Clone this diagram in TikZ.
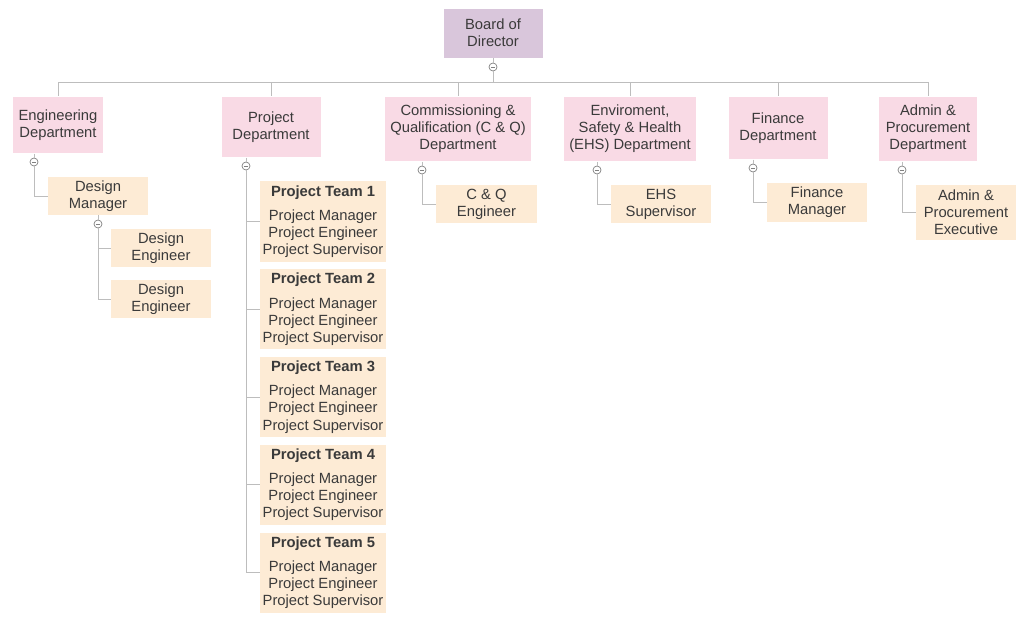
\documentclass[tikz,border=0pt]{standalone}
\usepackage{fontspec}
\setmainfont{Liberation Sans}
\usetikzlibrary{positioning}

\definecolor{boardfill}{HTML}{D9C6DB}
\definecolor{deptfill}{HTML}{F9DAE5}
\definecolor{staffill}{HTML}{FDEBD5}
\definecolor{linegray}{HTML}{BDBDBD}
\definecolor{textgray}{HTML}{3A3A3A}

\begin{document}
\begin{tikzpicture}[
    x=0.025cm, y=-0.025cm,
    every node/.style={font=\fontsize{10.5}{12.2}\selectfont, text=textgray},
    board/.style={rectangle, align=center, fill=boardfill, draw=white, minimum width=2.5cm, minimum height=1.25cm},
    dept/.style={rectangle, align=center, fill=deptfill, draw=white, inner xsep=0.15cm, anchor=north},
    staff/.style={rectangle, align=center, fill=staffill, minimum width=2.5cm, minimum height=0.95cm, inner sep=1pt},
    team/.style={rectangle, align=center, fill=staffill, minimum width=3.15cm, minimum height=2cm, inner sep=1pt},
    fold/.style={circle, draw=gray, fill=white, line width=0.5pt, inner sep=0pt, minimum size=0.2cm,
        path picture={\draw[gray, line width=0.5pt] ([xshift=-1.6pt]path picture bounding box.center) -- ([xshift=1.6pt]path picture bounding box.center);}},
    link/.style={draw=linegray, line width=0.7pt}
]
\useasboundingbox (0,0) rectangle (1024,619);

% Top
\node (board) [board] at (493,33) {Board of\\Director};
\node (bdot) [fold] at (493,67) {};
\coordinate (bus) at (493,82);

% Departments
\node (eng) [dept, minimum height=1.43cm] at (58,96) {Engineering\\Department};
\node (proj) [dept, minimum height=1.53cm, minimum width=2.5cm] at (271,96) {Project\\Department};
\node (cq) [dept, minimum height=1.63cm] at (458,96) {Commissioning \&\\Qualification (C \& Q)\\Department};
\node (ehs) [dept, minimum height=1.63cm] at (630,96) {Enviroment,\\Safety \& Health\\(EHS) Department};
\node (fin) [dept, minimum height=1.58cm, minimum width=2.5cm] at (778,96) {Finance\\Department};
\node (adm) [dept, minimum height=1.63cm, minimum width=2.48cm] at (928,96) {Admin \&\\Procurement\\Department};

% Fold markers
\node (engdot) [fold] at (34,162) {};
\node (projdot) [fold] at (246,166) {};
\node (cqdot) [fold] at (422,170) {};
\node (ehsdot) [fold] at (597,170) {};
\node (findot) [fold] at (753,168) {};
\node (admdot) [fold] at (902,170) {};

% Engineering
\node (dman) [staff] at (98,196) {Design\\Manager};
\node (dmdot) [fold] at (98,224) {};
\node (deng1) [staff] at (161,248) {Design\\Engineer};
\node (deng2) [staff] at (161,299) {Design\\Engineer};

% Project teams
\node (pt1) [team] at (323,221.5) {\textbf{Project Team 1}\\[5pt]Project Manager\\Project Engineer\\Project Supervisor};
\node (pt2) [team, below=0.18cm of pt1] {\textbf{Project Team 2}\\[5pt]Project Manager\\Project Engineer\\Project Supervisor};
\node (pt3) [team, below=0.18cm of pt2] {\textbf{Project Team 3}\\[5pt]Project Manager\\Project Engineer\\Project Supervisor};
\node (pt4) [team, below=0.18cm of pt3] {\textbf{Project Team 4}\\[5pt]Project Manager\\Project Engineer\\Project Supervisor};
\node (pt5) [team, below=0.18cm of pt4] {\textbf{Project Team 5}\\[5pt]Project Manager\\Project Engineer\\Project Supervisor};

% Other staff
\node (cqeng) [staff] at (486.5,204) {C \& Q\\Engineer};
\node (ehssup) [staff] at (661,204) {EHS\\Supervisor};
\node (finman) [staff] at (817,202.5) {Finance\\Manager};
\node (admex) [staff, minimum height=1.38cm] at (966,212.5) {Admin \&\\Procurement\\Executive};

% Connectors
\draw [link] (board) -- (bdot);
\draw [link] (bdot) -- (bus);
\foreach \d in {eng, proj, cq, ehs, fin, adm}
    \draw [link] (bus) -| (\d.north);

\draw [link] (eng.south -| engdot) -- (engdot);
\draw [link] (engdot) |- (dman.west);
\draw [link] (dman.south -| dmdot) -- (dmdot);
\draw [link] (dmdot) |- (deng1.west);
\draw [link] (dmdot) |- (deng2.west);

\draw [link] (proj.south -| projdot) -- (projdot);
\foreach \t in {pt1, pt2, pt3, pt4, pt5}
    \draw [link] (projdot) |- (\t.west);

\draw [link] (cq.south -| cqdot) -- (cqdot);
\draw [link] (cqdot) |- (cqeng.west);
\draw [link] (ehs.south -| ehsdot) -- (ehsdot);
\draw [link] (ehsdot) |- (ehssup.west);
\draw [link] (fin.south -| findot) -- (findot);
\draw [link] (findot) |- (finman.west);
\draw [link] (adm.south -| admdot) -- (admdot);
\draw [link] (admdot) |- (admex.west);

\end{tikzpicture}
\end{document}
